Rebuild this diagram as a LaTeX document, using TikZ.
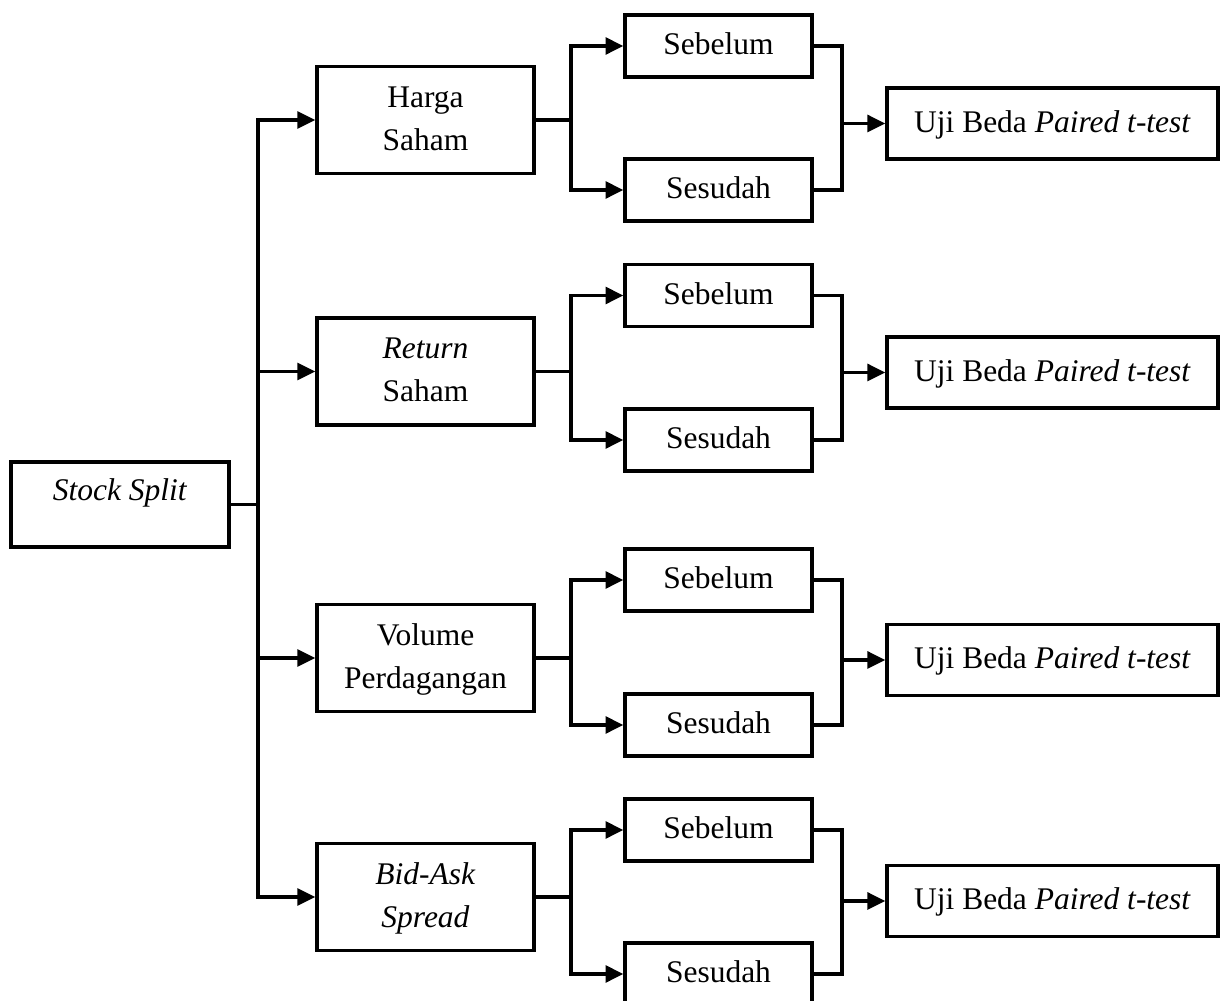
\documentclass[tikz,border=0pt]{standalone}
\usepackage{fontspec}
\setmainfont{Liberation Serif}
\usetikzlibrary{arrows.meta}

\tikzset{
  kotak/.style={draw, line width=1.3pt, inner sep=0pt, font=\fontsize{12}{16.4}\selectfont},
  kotakdua/.style={kotak, align=center, minimum width=82.7pt, minimum height=40.8pt},
  kotakuji/.style={kotak, minimum width=71.2pt, minimum height=23.6pt},
  garis/.style={line width=1.3pt},
  panah/.style={garis, -{Triangle[length=6.8pt, width=6.4pt]}}
}

\begin{document}
\begin{tikzpicture}[x=0.381pt, y=-0.381pt]
  \useasboundingbox (0,0) rectangle (1230,1001);

  % kotak kiri dan empat variabel
  \node[kotak, minimum width=83.1pt, text height=14.5pt, text depth=17.9pt] (split) at (120,504.5) {\textit{Stock Split}};
  \node[kotakdua] (harga)  at (425.5,120)   {\strut Harga\\\strut Saham};
  \node[kotakdua] (retur)  at (425.5,371.5) {\strut\textit{Return}\\\strut Saham};
  \node[kotakdua] (volume) at (425.5,658)   {\strut Volume\\\strut Perdagangan};
  \node[kotakdua] (bidask) at (425.5,897)   {\strut\textit{Bid-Ask}\\\strut\textit{Spread}};

  \coordinate (cab) at (258,504.5);
  \coordinate (cb) at (571,0);
  \coordinate (cm) at (842,0);

  \draw[garis] (split.east) -- (cab);
  \draw[panah] (cab) |- (harga.west);
  \draw[panah] (cab) |- (bidask.west);
  \draw[panah] (cab |- retur.west) -- (retur.west);
  \draw[panah] (cab |- volume.west) -- (volume.west);

  % sebelum / sesudah / uji beda
  \foreach \n/\i/\ys/\yd/\yu in {harga/1/46/190/123.5, retur/2/295.5/440/372.5,
                                 volume/3/580/725/660, bidask/4/830/974/901} {
    \node[kotakuji] (sb\i) at (718.5,\ys) {\strut Sebelum};
    \node[kotakuji] (sd\i) at (718.5,\yd) {\strut Sesudah};
    \node[kotak, minimum width=126.1pt, minimum height=27pt] (uji\i) at (1052.5,\yu)
      {\strut Uji Beda \textit{Paired t-test}};

    \draw[garis] (\n.east) -- (cb |- \n.east);
    \draw[panah] (cb |- \n.east) |- (sb\i.west);
    \draw[panah] (cb |- \n.east) |- (sd\i.west);
    \draw[garis] (sb\i.east) -| (cm |- sd\i.east) -- (sd\i.east);
    \draw[panah] (cm |- uji\i.west) -- (uji\i.west);
  }
\end{tikzpicture}
\end{document}
